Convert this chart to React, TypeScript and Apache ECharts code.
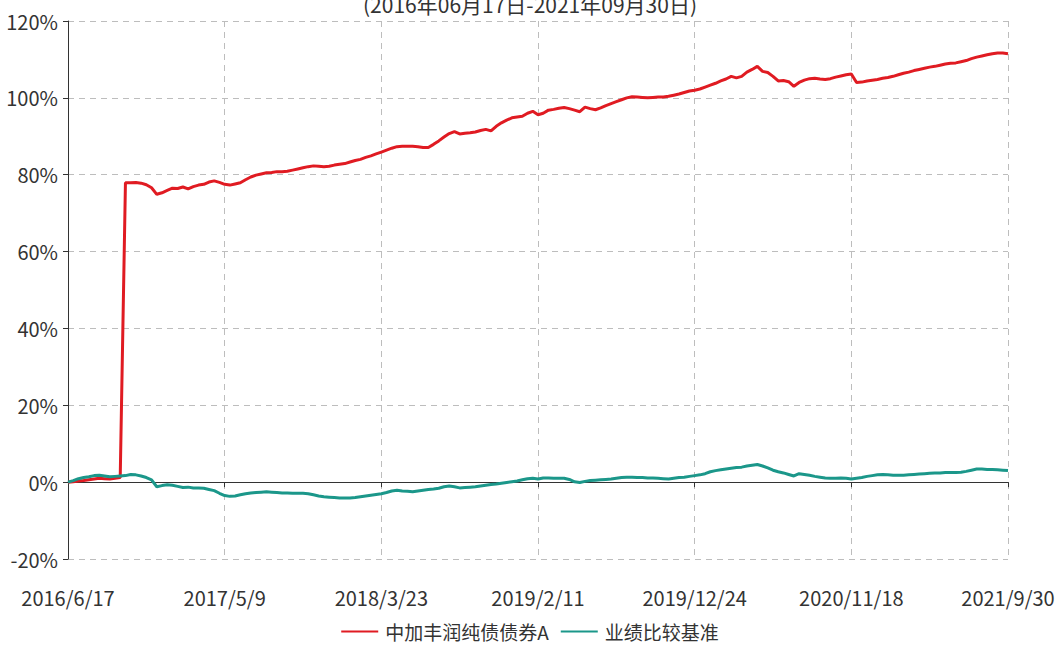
import React, { useEffect, useRef } from "react";
import * as echarts from "echarts";

const TITLE = "(2016年06月17日-2021年09月30日)";
const X_LABELS = ["2016/6/17", "2017/5/9", "2018/3/23", "2019/2/11", "2019/12/24", "2020/11/18", "2021/9/30"];
const Y_MIN = -20;
const Y_MAX = 120;
const Y_STEP = 20;
const POINTS_PER_LABEL = 30;

const FUND_NAME = "中加丰润纯债债券A";
const BENCH_NAME = "业绩比较基准";

const FUND = [
  0, 0.1, 0.3, 0.4, 0.6, 0.8, 1.0, 0.9, 0.8, 1.0,
  1.2, 77.9, 77.9, 78.0, 77.8, 77.4, 76.6, 74.9, 75.3, 75.9,
  76.5, 76.4, 76.8, 76.3, 76.9, 77.3, 77.5, 78.1, 78.4, 78.0,
  77.5, 77.3, 77.6, 77.9, 78.7, 79.4, 79.9, 80.2, 80.5, 80.6,
  80.8, 80.8, 80.9, 81.2, 81.5, 81.8, 82.1, 82.3, 82.2, 82.1,
  82.2, 82.5, 82.7, 82.9, 83.3, 83.7, 84.0, 84.5, 84.9, 85.4,
  85.9, 86.4, 86.9, 87.3, 87.4, 87.4, 87.4, 87.3, 87.1, 87.1,
  87.9, 88.8, 89.8, 90.7, 91.2, 90.6, 90.8, 90.9, 91.1, 91.5,
  91.8, 91.4, 92.6, 93.5, 94.2, 94.8, 95.0, 95.2, 96.0, 96.5,
  95.6, 96.0, 96.8, 97.0, 97.3, 97.5, 97.2, 96.8, 96.4, 97.6,
  97.2, 96.9, 97.4, 98.0, 98.5, 99.0, 99.5, 100.0, 100.3, 100.2,
  100.1, 100.0, 100.1, 100.2, 100.2, 100.4, 100.7, 101.0, 101.4, 101.8,
  102.0, 102.3, 102.8, 103.3, 103.8, 104.4, 104.9, 105.6, 105.2, 105.6,
  106.7, 107.4, 108.2, 106.9, 106.6, 105.6, 104.4, 104.5, 104.2, 103.0,
  104.0, 104.6, 105.0, 105.1, 104.9, 104.8, 105.0, 105.4, 105.7, 106.0,
  106.2, 104.0, 104.1, 104.4, 104.6, 104.8, 105.1, 105.3, 105.6, 106.0,
  106.4, 106.7, 107.1, 107.4, 107.7, 108.0, 108.2, 108.5, 108.8, 109.0,
  109.1, 109.4, 109.7, 110.2, 110.6, 110.9, 111.2, 111.5, 111.7, 111.7,
  111.5,
];

const BENCH = [
  0, 0.4, 0.9, 1.2, 1.4, 1.7, 1.8, 1.6, 1.4, 1.5,
  1.6, 1.7, 2.0, 1.9, 1.6, 1.2, 0.6, -1.2, -0.9, -0.7,
  -0.8, -1.1, -1.4, -1.3, -1.5, -1.5, -1.6, -1.9, -2.2, -2.9,
  -3.5, -3.7, -3.6, -3.3, -3.0, -2.8, -2.7, -2.6, -2.5, -2.6,
  -2.7, -2.8, -2.8, -2.9, -2.9, -2.9, -3.0, -3.3, -3.6, -3.8,
  -3.9, -4.0, -4.1, -4.1, -4.1, -4.0, -3.8, -3.6, -3.4, -3.2,
  -3.0, -2.7, -2.3, -2.1, -2.3, -2.4, -2.5, -2.3, -2.1, -1.9,
  -1.8, -1.6, -1.2, -1.0, -1.2, -1.5, -1.4, -1.3, -1.2, -1.0,
  -0.8, -0.6, -0.5, -0.3, -0.1, 0.1, 0.3, 0.6, 0.9, 1.0,
  0.8, 1.1, 1.1, 1.0, 1.0, 1.0, 0.7, 0.1, -0.1, 0.2,
  0.4, 0.5, 0.6, 0.7, 0.8, 1.0, 1.2, 1.3, 1.3, 1.2,
  1.2, 1.1, 1.1, 1.0, 0.9, 0.8, 1.0, 1.2, 1.3, 1.5,
  1.7, 1.9, 2.2, 2.7, 3.0, 3.2, 3.4, 3.6, 3.8, 3.9,
  4.2, 4.4, 4.6, 4.2, 3.7, 3.1, 2.7, 2.4, 2.0, 1.6,
  2.2, 2.0, 1.8, 1.5, 1.3, 1.1, 1.0, 1.0, 1.1, 1.0,
  0.8, 1.0, 1.2, 1.5, 1.7, 1.9, 2.0, 1.9, 1.8, 1.8,
  1.8, 1.9, 2.0, 2.1, 2.2, 2.3, 2.4, 2.4, 2.5, 2.5,
  2.5, 2.6, 2.8, 3.1, 3.4, 3.4, 3.3, 3.3, 3.2, 3.1,
  3.0,
];

const FONT = "'Liberation Sans Narrow', 'Noto Sans CJK SC', sans-serif";
const TEXT_COLOR = "#333";
const GRID_COLOR = "#bdbdbd";

export default function App() {
  const ref = useRef<HTMLDivElement>(null);

  useEffect(() => {
    if (!ref.current) return;
    const chart = echarts.init(ref.current, null, { renderer: "svg" });
    const xMax = (X_LABELS.length - 1) * POINTS_PER_LABEL;
    chart.setOption({
      animation: false,
      backgroundColor: "#fff",
      title: {
        text: TITLE,
        left: "center",
        top: -12,
        textStyle: { fontSize: 21, fontWeight: "normal", color: TEXT_COLOR, fontFamily: FONT },
      },
      legend: {
        bottom: 7,
        left: "center",
        icon: "rect",
        itemWidth: 37,
        itemHeight: 2,
        itemGap: 12,
        textStyle: { fontSize: 19, color: TEXT_COLOR, fontFamily: FONT, padding: [0, 0, 0, 2] },
        data: [FUND_NAME, BENCH_NAME],
      },
      grid: { left: 68, right: 52, top: 21, bottom: 94, containLabel: false },
      xAxis: [
        {
          type: "value",
          min: 0,
          max: xMax,
          interval: POINTS_PER_LABEL,
          position: "bottom",
          axisLine: { show: false, onZero: false },
          axisTick: { show: false },
          axisLabel: {
            formatter: (v: number) => X_LABELS[Math.round(v / POINTS_PER_LABEL)] ?? "",
            margin: 28,
            fontSize: 20,
            color: TEXT_COLOR,
            fontFamily: FONT,
          },
          splitLine: { show: true, lineStyle: { type: [6, 5], color: GRID_COLOR, width: 1 } },
        },
        {
          type: "value",
          min: 0,
          max: xMax,
          interval: POINTS_PER_LABEL,
          position: "top",
          axisLine: { show: true, onZero: true, lineStyle: { color: TEXT_COLOR, width: 1 } },
          axisTick: { show: true, inside: true, length: 5, lineStyle: { color: TEXT_COLOR } },
          axisLabel: { show: false },
          splitLine: { show: false },
        },
      ],
      yAxis: {
        type: "value",
        min: Y_MIN,
        max: Y_MAX,
        interval: Y_STEP,
        axisLine: { show: true, lineStyle: { color: TEXT_COLOR, width: 1 } },
        axisTick: { show: true, length: 5, lineStyle: { color: TEXT_COLOR } },
        axisLabel: {
          formatter: "{value}%",
          margin: 10,
          fontSize: 20,
          color: TEXT_COLOR,
          fontFamily: FONT,
        },
        splitLine: { show: true, lineStyle: { type: [6, 5], color: GRID_COLOR, width: 1 } },
      },
      series: [
        {
          name: FUND_NAME,
          type: "line",
          xAxisIndex: 0,
          symbol: "none",
          data: FUND.map((v, i) => [i, v]),
          lineStyle: { color: "#e01b22", width: 3 },
          itemStyle: { color: "#e01b22" },
          z: 3,
        },
        {
          name: BENCH_NAME,
          type: "line",
          xAxisIndex: 0,
          symbol: "none",
          data: BENCH.map((v, i) => [i, v]),
          lineStyle: { color: "#1b978a", width: 3 },
          itemStyle: { color: "#1b978a" },
          z: 4,
        },
      ],
    });
    return () => chart.dispose();
  }, []);

  return (
    <div
      ref={ref}
      style={{ position: "fixed", left: 0, top: 0, width: 1060, height: 653, background: "#fff" }}
    />
  );
}
